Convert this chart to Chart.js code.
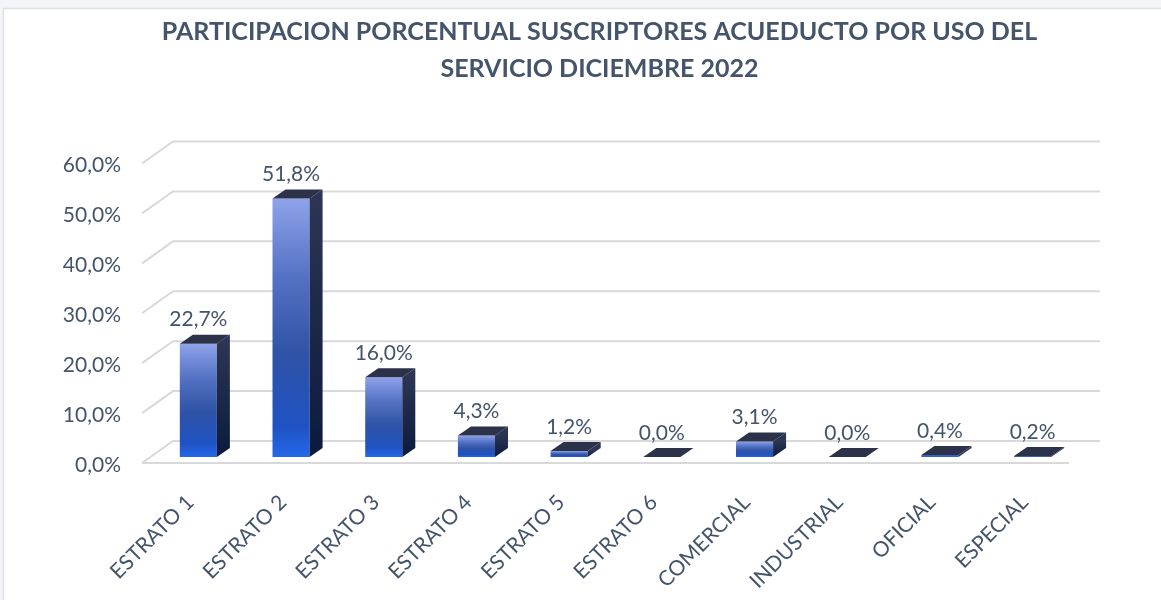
<!DOCTYPE html>
<html>
<head>
<meta charset="utf-8">
<title>Participacion porcentual suscriptores acueducto</title>
<script src="https://cdn.jsdelivr.net/npm/chart.js@4.4.0/dist/chart.umd.min.js"></script>
<style>
  html, body { margin: 0; padding: 0; background: #fff; }
  #contenedor { width: 1161px; height: 600px; }
</style>
</head>
<body>
<div id="contenedor"><canvas id="grafico" width="1161" height="600"></canvas></div>
<script>
'use strict';

/****************************** Datos ******************************/
var categorias = ['ESTRATO 1', 'ESTRATO 2', 'ESTRATO 3', 'ESTRATO 4', 'ESTRATO 5',
  'ESTRATO 6', 'COMERCIAL', 'INDUSTRIAL', 'OFICIAL', 'ESPECIAL'];
var porcentajes = [22.7, 51.8, 16.0, 4.3, 1.2, 0.0, 3.1, 0.0, 0.4, 0.2];
var ticksEje = [0, 10, 20, 30, 40, 50, 60];
var tituloLineas = ['PARTICIPACION PORCENTUAL SUSCRIPTORES ACUEDUCTO POR USO DEL',
  'SERVICIO DICIEMBRE 2022'];

/************************ Estilo / perspectiva ************************/
var TEXTO = '#44546a';
var FUENTE = 'Lato';
// desplazamiento de la pared del fondo y del borde frontal respecto al plano de las barras
var PARED = { dx: 21, dy: -16 };
var FRENTE = { dx: -10, dy: 6 };
// profundidad de cada barra
var PROF = { dx: 13, dy: -9 };

function formato(v) {
  return v.toFixed(1).replace('.', ',') + '%';
}

/************************ Plugins de dibujo ************************/
var fondo = {
  id: 'fondo',
  beforeDraw: function(chart) {
    var ctx = chart.ctx;
    ctx.save();
    ctx.fillStyle = '#f3f5f9';
    ctx.fillRect(0, 0, chart.width, chart.height);
    ctx.fillStyle = '#ffffff';
    ctx.fillRect(3, 8, chart.width, chart.height);
    ctx.strokeStyle = '#dde1e6';
    ctx.lineWidth = 1.5;
    ctx.beginPath();
    ctx.moveTo(3.5, chart.height);
    ctx.lineTo(3.5, 8.5);
    ctx.lineTo(chart.width, 8.5);
    ctx.stroke();
    ctx.restore();
  }
};

var pared = {
  id: 'pared',
  beforeDatasetsDraw: function(chart) {
    var ctx = chart.ctx, a = chart.chartArea, ys = chart.scales.y;
    ctx.save();
    ctx.strokeStyle = '#d9d9d9';
    ctx.lineWidth = 2;
    ys.ticks.forEach(function(t) {
      var py = ys.getPixelForValue(t.value);
      ctx.beginPath();
      ctx.moveTo(a.left + FRENTE.dx, py + FRENTE.dy);
      ctx.lineTo(a.left + PARED.dx, py + PARED.dy);
      ctx.lineTo(a.right + PARED.dx, py + PARED.dy);
      ctx.stroke();
    });
    var p0 = ys.getPixelForValue(0);
    ctx.beginPath();
    ctx.moveTo(a.left + FRENTE.dx, p0 + FRENTE.dy);
    ctx.lineTo(a.right + FRENTE.dx, p0 + FRENTE.dy);
    ctx.stroke();
    ctx.restore();
  }
};

var caras = {
  id: 'caras',
  afterDatasetsDraw: function(chart) {
    var ctx = chart.ctx;
    var meta = chart.getDatasetMeta(0);
    ctx.save();
    meta.data.forEach(function(el, i) {
      var p = el.getProps(['x', 'y', 'base', 'width'], true);
      var izq = p.x - p.width / 2, der = p.x + p.width / 2;
      // cara lateral
      var g = ctx.createLinearGradient(0, p.y, 0, p.base);
      g.addColorStop(0, '#2c3553');
      g.addColorStop(1, '#0b1a3d');
      ctx.fillStyle = g;
      ctx.beginPath();
      ctx.moveTo(der, p.y);
      ctx.lineTo(der + PROF.dx, p.y + PROF.dy);
      ctx.lineTo(der + PROF.dx, p.base + PROF.dy);
      ctx.lineTo(der, p.base);
      ctx.closePath();
      ctx.fill();
      // cara superior
      ctx.fillStyle = '#2b3249';
      ctx.beginPath();
      ctx.moveTo(izq, p.y);
      ctx.lineTo(izq + PROF.dx, p.y + PROF.dy);
      ctx.lineTo(der + PROF.dx, p.y + PROF.dy);
      ctx.lineTo(der, p.y);
      ctx.closePath();
      ctx.fill();
      // etiqueta
      ctx.fillStyle = TEXTO;
      ctx.font = '21px ' + FUENTE;
      ctx.textAlign = 'center';
      ctx.textBaseline = 'middle';
      ctx.fillText(formato(porcentajes[i]), p.x, p.y - 24);
    });
    ctx.restore();
  }
};

function colorFrente(c) {
  var chart = c.chart;
  if (!chart.chartArea || c.type !== 'data') return '#2f55a8';
  var ys = chart.scales.y;
  var top = ys.getPixelForValue(c.raw), base = ys.getPixelForValue(0);
  if (base - top < 4) return '#3462c4';
  var g = chart.ctx.createLinearGradient(0, top, 0, base);
  g.addColorStop(0, '#8ea3ea');
  g.addColorStop(0.3, '#5572c4');
  g.addColorStop(0.6, '#2f53a6');
  g.addColorStop(0.88, '#1f52c2');
  g.addColorStop(1, '#2468ea');
  return g;
}

/************************ Grafico ************************/
new Chart(document.getElementById('grafico').getContext('2d'), {
  type: 'bar',
  data: {
    labels: categorias,
    datasets: [{
      data: porcentajes,
      backgroundColor: colorFrente,
      borderWidth: 0,
      categoryPercentage: 1,
      barPercentage: 0.4
    }]
  },
  options: {
    responsive: false,
    animation: false,
    devicePixelRatio: 1,
    layout: { padding: { left: 38, right: 0, top: 0, bottom: 0 } },
    plugins: {
      legend: { display: false },
      tooltip: { enabled: false },
      title: {
        display: true,
        text: tituloLineas,
        color: TEXTO,
        font: { family: FUENTE, size: 25, weight: 'bold', lineHeight: 1.5 },
        padding: { top: 13, bottom: 69.5 }
      }
    },
    scales: {
      x: {
        grid: { display: false, drawTicks: false },
        border: { display: false },
        afterFit: function(s) { s.height = 143; },
        ticks: {
          color: TEXTO,
          font: { family: FUENTE, size: 21 },
          minRotation: 45,
          maxRotation: 45,
          padding: 33,
          labelOffset: -8,
          autoSkip: false
        }
      },
      y: {
        min: 0,
        max: 60,
        grid: { display: false, drawTicks: false },
        border: { display: false },
        afterFit: function(s) { s.width = 114; },
        afterBuildTicks: function(s) {
          s.ticks = ticksEje.map(function(v) { return { value: v }; });
        },
        ticks: {
          color: TEXTO,
          font: { family: FUENTE, size: 21 },
          padding: 31,
          labelOffset: 8,
          callback: function(v) { return formato(v); }
        }
      },
      // eje vacio a la derecha: reserva el margen a la derecha del area
      margen: {
        axis: 'y',
        position: 'right',
        min: 0,
        max: 60,
        grid: { display: false, drawTicks: false },
        border: { display: false },
        ticks: { display: false },
        afterFit: function(s) { s.width = 82; }
      }
    }
  },
  plugins: [fondo, pared, caras]
});
</script>
</body>
</html>
